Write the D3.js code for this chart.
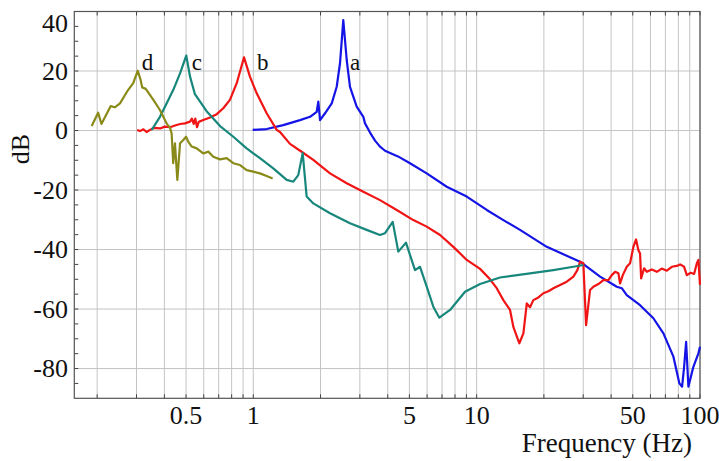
<!DOCTYPE html>
<html>
<head>
<meta charset="utf-8">
<script src="https://cdn.jsdelivr.net/npm/d3@7"></script>
<style>
  html, body { margin: 0; padding: 0; background: #fff; }
  svg { display: block; }
</style>
</head>
<body>
<svg id="chart" width="719" height="461"></svg>
<script>
// Frequency response magnitudes (dB) of four configurations, a–d.
const freqA = [0.994, 1.148, 1.362, 1.619, 1.795, 1.923, 1.955, 1.990, 2.095, 2.245, 2.363, 2.445, 2.529, 2.620, 2.710, 2.904, 3.109, 3.164, 3.332, 3.508, 3.693, 3.889, 4.168, 4.446, 5.031, 5.977, 7.346, 9.030, 11.10, 13.17, 15.64, 20.60, 29.04, 35.70, 42.41, 44.64, 47.00, 53.91, 61.85, 68.58, 76.03, 80.87, 83.16, 84.90, 86.67, 88.72, 93.41, 98.36, 100];
const dbA   = [0.2, 0.5, 1.8, 3.5, 4.6, 6.3, 9.7, 3.5, 5.8, 9.1, 14.7, 22.6, 37.1, 23.7, 14.7, 8.0, 4.6, 2.4, -0.7, -3.4, -5.4, -6.8, -7.8, -8.7, -11.0, -14.4, -18.9, -22.2, -26.7, -30.1, -33.4, -39.1, -44.1, -49.1, -52.5, -53.0, -55.3, -58.7, -63.1, -68.2, -76.0, -85.0, -86.1, -79.4, -71.0, -86.1, -79.4, -74.9, -72.7];

const freqB = [0.302, 0.311, 0.322, 0.333, 0.345, 0.359, 0.382, 0.402, 0.424, 0.446, 0.470, 0.494, 0.521, 0.531, 0.541, 0.550, 0.560, 0.570, 0.597, 0.640, 0.686, 0.734, 0.786, 0.843, 0.909, 0.966, 1.036, 1.148, 1.273, 1.317, 1.460, 1.658, 1.856, 2.206, 2.620, 3.109, 3.693, 4.387, 5.206, 5.977, 6.858, 7.865, 9.030, 10.36, 11.48, 12.30, 13.17, 14.11, 14.60, 15.53, 16.19, 16.77, 17.34, 17.94, 18.90, 19.89, 20.95, 22.06, 23.63, 25.32, 27.11, 28.25, 29.04, 30.05, 30.90, 32.19, 33.32, 35.08, 36.93, 38.89, 40.27, 41.68, 43.12, 43.87, 45.12, 47.00, 48.64, 50.31, 51.74, 52.98, 53.91, 54.5, 56.2, 57.8, 60.8, 64.1, 67.4, 71.02, 74.8, 78.7, 81.46, 84.9, 87.29, 90.9, 94.1, 96.8, 98.36, 100];
const dbB   = [0.2, -0.2, 0.4, -0.5, 0.2, 0.9, 0.7, 1.3, 1.1, 1.7, 2.2, 2.4, 3.0, 4.0, 2.2, 4.0, 1.1, 2.9, 3.5, 4.4, 5.5, 7.5, 10.3, 15.9, 24.6, 18.1, 12.5, 5.8, 0.2, -0.5, -4.5, -7.3, -9.9, -14.4, -17.7, -20.6, -23.4, -26.7, -30.1, -32.3, -35.1, -39.1, -43.5, -46.5, -50.0, -53.0, -57.0, -60.3, -66.0, -71.5, -68.2, -58.1, -59.4, -57.0, -56.1, -54.7, -54.0, -53.0, -51.9, -50.8, -49.1, -46.9, -44.1, -44.6, -65.4, -53.6, -52.5, -51.6, -50.3, -50.3, -48.6, -47.5, -48.0, -51.4, -48.6, -45.8, -44.6, -39.1, -36.6, -40.2, -41.3, -49.7, -46.3, -47.5, -46.7, -47.5, -46.4, -47.1, -45.8, -45.5, -45.0, -45.8, -48.6, -47.8, -48.2, -44.6, -43.5, -51.9];

const freqC = [0.351, 0.382, 0.409, 0.438, 0.470, 0.501, 0.521, 0.548, 0.618, 0.710, 0.814, 0.934, 1.071, 1.229, 1.411, 1.511, 1.590, 1.664, 1.734, 1.857, 2.206, 2.710, 3.219, 3.690, 3.889, 4.210, 4.459, 4.826, 5.297, 5.579, 5.977, 6.398, 6.808, 7.602, 8.873, 10.36, 12.73, 17.34, 22.04, 27.10, 30.05];
const dbC   = [0.2, 4.6, 9.1, 13.6, 19.2, 25.2, 18.1, 12.2, 6.5, 1.5, -2.1, -6.0, -9.3, -12.7, -16.6, -17.2, -15.0, -7.6, -22.2, -24.5, -27.8, -31.2, -33.4, -35.1, -34.5, -30.7, -40.7, -37.7, -46.9, -45.8, -52.5, -59.2, -62.9, -60.3, -54.2, -51.6, -49.4, -48.0, -46.9, -45.8, -45.2];

const freqD = [0.189, 0.202, 0.209, 0.230, 0.240, 0.253, 0.275, 0.290, 0.304, 0.313, 0.318, 0.330, 0.357, 0.382, 0.409, 0.424, 0.431, 0.438, 0.446, 0.457, 0.470, 0.486, 0.500, 0.512, 0.530, 0.558, 0.597, 0.629, 0.662, 0.710, 0.760, 0.814, 0.872, 0.934, 1.000, 1.071, 1.148, 1.221];
const dbD   = [1.5, 6.0, 2.2, 8.2, 7.8, 9.1, 13.6, 15.9, 20.1, 17.0, 14.5, 14.0, 10.3, 6.9, 2.4, 0.9, -1.0, -11.0, -4.3, -16.6, -4.3, -3.2, -2.1, -3.8, -5.4, -6.0, -7.7, -7.1, -8.8, -9.7, -9.3, -11.0, -11.6, -13.3, -13.8, -14.4, -15.3, -16.1];

const seriesNames  = ["a", "b", "c", "d"];
const seriesColors = ["#1414e6", "#f01414", "#17877c", "#8a8a18"];
const labelFreqs   = [2.71, 1.04, 0.53, 0.317];

const yTicks = [-80, -60, -40, -20, 0, 20, 40];
const xTickLabels = [0.5, 1, 5, 10, 50, 100];
const xGrid = [0.2, 0.3, 0.4, 0.5, 0.6, 0.7, 0.8, 0.9, 1, 2, 3, 4, 5, 6, 7, 8, 9, 10, 20, 30, 40, 50, 60, 70, 80, 90, 100];

const FONT = "'Liberation Serif', Tinos, 'DejaVu Serif', 'Times New Roman', serif";

const svg = d3.select("#chart");
const plotL = 74.3, plotR = 700, plotT = 11.5, plotB = 398.3;

const x = d3.scaleLog().domain([0.158, 100]).range([plotL, plotR]);
const y = d3.scaleLinear().domain([-90, 40]).range([plotB, plotT]);

// grid
const grid = svg.append("g").attr("stroke", "#c4c4c4").attr("stroke-width", 1);
grid.selectAll("line.v").data(xGrid).join("line")
  .attr("x1", d => x(d)).attr("x2", d => x(d))
  .attr("y1", plotT).attr("y2", plotB);
grid.selectAll("line.h").data(yTicks).join("line")
  .attr("x1", plotL).attr("x2", plotR)
  .attr("y1", d => y(d)).attr("y2", d => y(d));

// inward ticks on top and bottom edges
const tk = svg.append("g").attr("stroke", "#444").attr("stroke-width", 1);
tk.selectAll("line.t").data(xGrid).join("line")
  .attr("x1", d => x(d)).attr("x2", d => x(d)).attr("y1", plotT).attr("y2", plotT + 4);
tk.selectAll("line.b").data(xGrid).join("line")
  .attr("x1", d => x(d)).attr("x2", d => x(d)).attr("y1", plotB).attr("y2", plotB - 4);
// left minor ticks every 5 dB
tk.selectAll("line.l").data(d3.range(-85, 40, 5)).join("line")
  .attr("x1", plotL).attr("x2", plotL + 4).attr("y1", d => y(d)).attr("y2", d => y(d));

// frame
svg.append("rect").attr("x", plotL).attr("y", plotT)
  .attr("width", plotR - plotL).attr("height", plotB - plotT)
  .attr("fill", "none").attr("stroke", "#555").attr("stroke-width", 1.2);

// curves
const curves = [[freqA, dbA], [freqB, dbB], [freqC, dbC], [freqD, dbD]];
const line = d3.line().x(d => x(d[0])).y(d => y(d[1]));
const plot = svg.append("g");
curves.forEach(([fs, vs], i) => {
  plot.append("path")
    .datum(fs.map((f, k) => [f, vs[k]]))
    .attr("d", line)
    .attr("fill", "none")
    .attr("stroke", seriesColors[i])
    .attr("stroke-width", 2.2)
    .attr("stroke-linejoin", "round");
});

const txt = svg.append("g").attr("font-family", FONT).attr("fill", "#111");

// curve letters
txt.append("g").selectAll("text").data(seriesNames).join("text")
  .attr("x", (d, i) => x(labelFreqs[i]))
  .attr("y", 70)
  .attr("font-size", 23)
  .text(d => d);

// y tick labels (the top one is kept inside the picture)
txt.append("g").selectAll("text").data(yTicks).join("text")
  .attr("x", 68).attr("y", d => Math.max(y(d) + 8.5, 32))
  .attr("text-anchor", "end").attr("font-size", 26)
  .text(d => d < 0 ? "-" + Math.abs(d) : d);

// x tick labels
txt.append("g").selectAll("text").data(xTickLabels).join("text")
  .attr("x", d => x(d)).attr("y", 424)
  .attr("text-anchor", "middle").attr("font-size", 26)
  .text(d => d);

// axis titles
txt.append("text").attr("x", 692).attr("y", 452)
  .attr("text-anchor", "end").attr("font-size", 27)
  .text("Frequency (Hz)");
txt.append("text")
  .attr("transform", "translate(29,149) rotate(-90)")
  .attr("text-anchor", "middle").attr("font-size", 26)
  .text("dB");
</script>
</body>
</html>
